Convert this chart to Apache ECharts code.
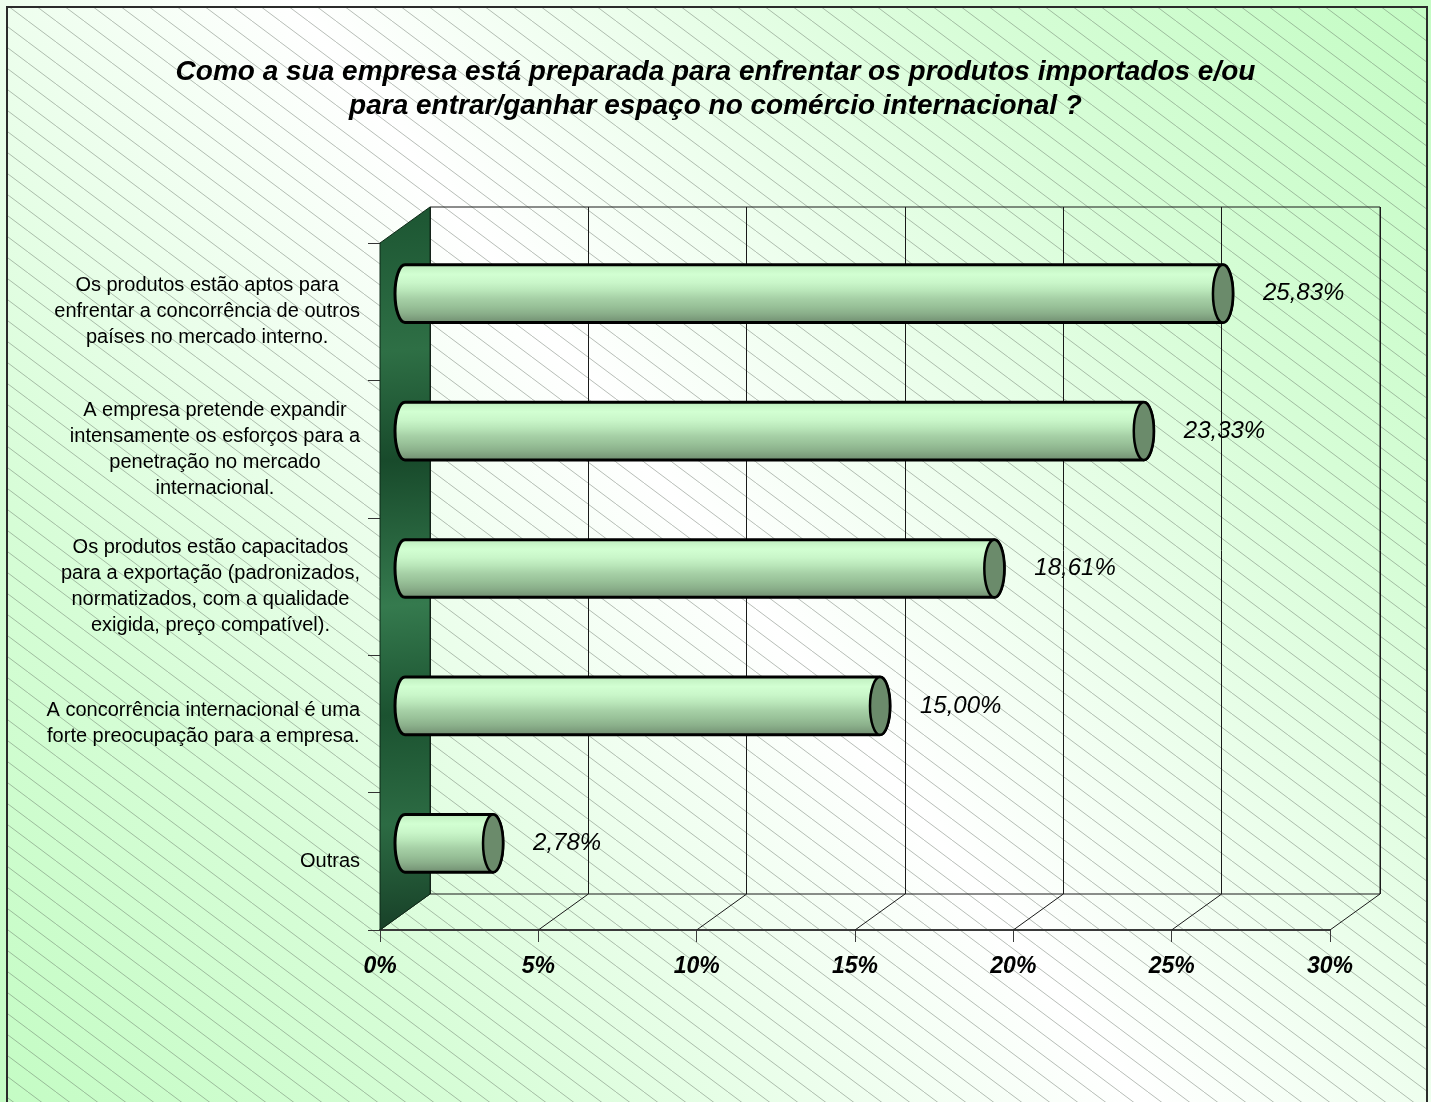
<!DOCTYPE html>
<html>
<head>
<meta charset="utf-8">
<script src="https://cdn.jsdelivr.net/npm/echarts@6/dist/echarts.min.js"></script>
<style>
  html, body { margin: 0; padding: 0; background: #fff; }
  #main { width: 1431px; height: 1102px; }
</style>
</head>
<body>
<div id="main"></div>
<script>
// dados do gráfico
const titleText = 'Como a sua empresa está preparada para enfrentar os produtos importados e/ou\npara entrar/ganhar espaço no comércio internacional ?';
const categories = [
  'Os produtos estão aptos para\nenfrentar a concorrência de outros\npaíses no mercado interno.',
  'A empresa pretende expandir\nintensamente os esforços para a\npenetração no mercado\ninternacional.',
  'Os produtos estão capacitados\npara a exportação (padronizados,\nnormatizados, com a qualidade\nexigida, preço compatível).',
  'A concorrência internacional é uma\nforte preocupação para a empresa.',
  'Outras'
];
const values = [25.83, 23.33, 18.61, 15.00, 2.78];
const xTicks = [0, 5, 10, 15, 20, 25, 30];

// profundidade do efeito 3D (parede do fundo deslocada)
const DX = 50, DY = -36;
const FONT = '"Liberation Sans", Arial, sans-serif';

// padrão de linhas diagonais do fundo
function hatchTile() {
  const c = document.createElement('canvas');
  c.width = 28; c.height = 21;
  const g = c.getContext('2d');
  g.strokeStyle = 'rgba(85,95,85,0.42)';
  g.lineWidth = 1;
  g.beginPath();
  g.moveTo(-28, -21);
  g.lineTo(56, 42);
  g.stroke();
  return c;
}

function fmt(v) {
  return v.toFixed(2).replace('.', ',') + '%';
}

const myChart = echarts.init(document.getElementById('main'));

const barGradient = new echarts.graphic.LinearGradient(0, 0, 0, 1, [
  { offset: 0, color: '#b4e2b4' },
  { offset: 0.08, color: '#c6f4c6' },
  { offset: 0.18, color: '#d2ffd2' },
  { offset: 0.32, color: '#c9f6c9' },
  { offset: 0.45, color: '#b9e6b9' },
  { offset: 0.58, color: '#a6d0a6' },
  { offset: 0.70, color: '#99c299' },
  { offset: 0.82, color: '#8bb08b' },
  { offset: 0.92, color: '#7b9b7b' },
  { offset: 1, color: '#6c886c' }
]);

const marbleGradient = new echarts.graphic.LinearGradient(0, 0, 1, 1, [
  { offset: 0, color: '#1c5532' },
  { offset: 0.2, color: '#2e6f45' },
  { offset: 0.35, color: '#184a2b' },
  { offset: 0.55, color: '#357a4e' },
  { offset: 0.7, color: '#1b5230' },
  { offset: 0.85, color: '#2c6b43' },
  { offset: 1, color: '#173f27' }
]);

const option = {
  animation: false,
  title: {
    text: titleText,
    left: 'center',
    top: 50,
    textStyle: {
      fontFamily: FONT,
      fontSize: 28,
      fontWeight: 'bold',
      fontStyle: 'italic',
      color: '#000',
      lineHeight: 34
    }
  },
  graphic: [
    {
      type: 'rect', z: -20, silent: true,
      shape: { x: 0, y: 0, width: 1431, height: 1102 },
      style: {
        fill: new echarts.graphic.LinearGradient(1, 0, 0, 1, [
          { offset: 0, color: '#c4fcc4' },
          { offset: 0.2, color: '#d6fdd6' },
          { offset: 0.5, color: '#ffffff' },
          { offset: 0.8, color: '#d6fdd6' },
          { offset: 1, color: '#c4fcc4' }
        ])
      }
    },
    {
      type: 'rect', z: -19, silent: true,
      shape: { x: 8, y: 8, width: 1418, height: 1100 },
      style: { fill: { image: hatchTile(), repeat: 'repeat' } }
    },
    {
      type: 'rect', z: 50, silent: true,
      shape: { x: 7, y: 7, width: 1420, height: 1110 },
      style: { fill: 'none', stroke: '#2b2b2b', lineWidth: 2 }
    }
  ],
  grid: [
    { left: 380, top: 243, width: 950, height: 687 },
    { left: 380 + DX, top: 243 + DY, width: 950, height: 687,
      show: true, backgroundColor: 'transparent', borderColor: '#1a1a1a', borderWidth: 1 }
  ],
  xAxis: [
    {
      gridIndex: 0, type: 'value', min: 0, max: 30, interval: 5,
      axisLine: { show: true, lineStyle: { color: '#3a3a3a', width: 2 } },
      axisTick: { show: true, length: 12, lineStyle: { color: '#3a3a3a' } },
      axisLabel: {
        formatter: '{value}%', margin: 25, color: '#000',
        fontFamily: FONT, fontSize: 23, fontWeight: 'bold', fontStyle: 'italic'
      },
      splitLine: { show: false }
    },
    {
      gridIndex: 1, type: 'value', min: 0, max: 30, interval: 5,
      axisLine: { show: false }, axisTick: { show: false }, axisLabel: { show: false },
      splitLine: { show: true, lineStyle: { color: '#1a1a1a', width: 1 } }
    }
  ],
  yAxis: [
    {
      gridIndex: 0, type: 'category', data: categories, inverse: true,
      axisLine: { show: true, lineStyle: { color: '#333', width: 1 } },
      axisTick: { show: true, length: 12, lineStyle: { color: '#333' } },
      axisLabel: {
        align: 'right', margin: 20, interval: 0,
        formatter: v => v.split('\n').map(l => '{c|' + l + '}').join('\n'),
        rich: {
          c: { align: 'center', fontFamily: FONT, fontSize: 20, lineHeight: 26, color: '#000' }
        }
      }
    },
    { gridIndex: 1, type: 'value', show: false, min: 0, max: 1 }
  ],
  series: [
    {
      // linhas diagonais do piso
      type: 'custom', xAxisIndex: 0, yAxisIndex: 0, z: 1, silent: true,
      encode: { x: 0, y: 1 },
      data: xTicks.map(t => [t, 0]),
      renderItem: (params, api) => {
        const cs = params.coordSys;
        const x = api.coord([api.value(0), 0])[0];
        const yb = cs.y + cs.height;
        return {
          type: 'line',
          shape: { x1: x, y1: yb, x2: x + DX, y2: yb + DY },
          style: { stroke: '#1a1a1a', lineWidth: 1 }
        };
      }
    },
    {
      // parede lateral (mármore)
      type: 'custom', xAxisIndex: 0, yAxisIndex: 0, z: 3, silent: true,
      encode: { x: 0, y: 1 },
      data: [[0, 0]],
      renderItem: (params, api) => {
        const cs = params.coordSys;
        return {
          type: 'polygon',
          shape: { points: [
            [cs.x, cs.y], [cs.x + DX, cs.y + DY],
            [cs.x + DX, cs.y + cs.height + DY], [cs.x, cs.y + cs.height]
          ] },
          style: { fill: marbleGradient, stroke: '#0f2a18', lineWidth: 1 }
        };
      }
    },
    {
      // cilindros
      type: 'custom', xAxisIndex: 0, yAxisIndex: 0, z: 4,
      encode: { x: 0, y: 1 },
      data: values.map((v, i) => [v, i]),
      renderItem: (params, api) => {
        const v = api.value(0);
        const cat = api.value(1);
        const p0 = api.coord([0, cat]);
        const p1 = api.coord([v, cat]);
        const band = api.size([0, 1])[1];
        const h = band * 0.42;
        const yc = p0[1] + DY / 2;
        const x0 = p0[0] + DX / 2;
        const x1 = p1[0] + DX / 2;
        const rx = 10, ry = h / 2;
        const top = yc - ry, bot = yc + ry;
        const body = 'M' + x0 + ' ' + top + ' L' + x1 + ' ' + top +
          ' A' + rx + ' ' + ry + ' 0 0 1 ' + x1 + ' ' + bot +
          ' L' + x0 + ' ' + bot +
          ' A' + rx + ' ' + ry + ' 0 0 1 ' + x0 + ' ' + top + ' Z';
        const cap = 'M' + x1 + ' ' + top +
          ' A' + rx + ' ' + ry + ' 0 0 1 ' + x1 + ' ' + bot +
          ' A' + rx + ' ' + ry + ' 0 0 1 ' + x1 + ' ' + top + ' Z';
        return {
          type: 'group',
          children: [
            { type: 'path', shape: { pathData: body },
              style: { fill: barGradient, stroke: '#000', lineWidth: 3 } },
            { type: 'path', shape: { pathData: cap },
              style: { fill: '#6b8b6b', stroke: '#000', lineWidth: 2.5 } },
            { type: 'text',
              style: { text: fmt(v), x: x1 + 40, y: yc, align: 'left', verticalAlign: 'middle',
                font: 'italic 24px ' + FONT, fill: '#000' } }
          ]
        };
      }
    }
  ]
};

option && myChart.setOption(option);
</script>
</body>
</html>
